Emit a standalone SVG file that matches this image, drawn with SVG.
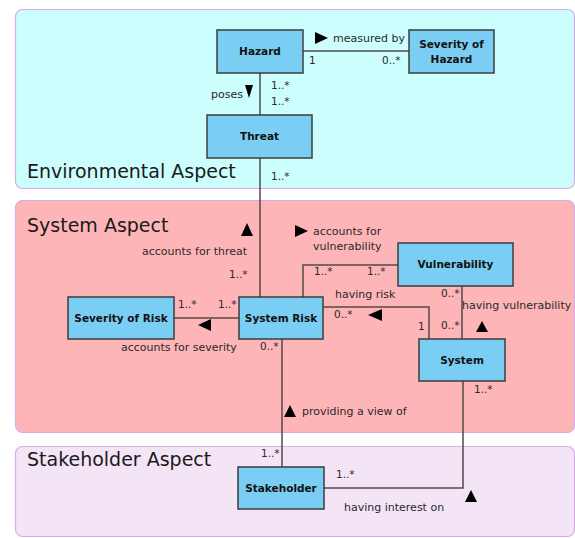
<svg xmlns="http://www.w3.org/2000/svg" width="575" height="538" viewBox="0 0 575 538">
  <style>
    .panel { stroke: #d6ace6; stroke-width: 1.2; }
    .title { font-family: "DejaVu Sans", sans-serif; font-size: 19px; fill: #1a1a1a; }
    .node rect { fill: #7bcef3; stroke: #3c3c3c; stroke-width: 1.5; }
    .node text { font-family: "DejaVu Sans", sans-serif; font-size: 10.5px; font-weight: bold; fill: #111; text-anchor: middle; }
    .conn { fill: none; stroke: #544848; stroke-width: 1.5; }
    .lbl { font-family: "DejaVu Sans", sans-serif; font-size: 11px; fill: #2a2a2a; }
    .mul { font-family: "DejaVu Sans", sans-serif; font-size: 10.5px; fill: #2a2a2a; }
    .tri { fill: #000; }
  </style>

  <rect width="575" height="538" fill="#ffffff"/>

  <!-- aspect panels -->
  <g id="environmental-aspect">
    <rect class="panel" x="15.5" y="9.5" width="559" height="179" rx="7" fill="#ccfefe"/>
    <text class="title" x="27" y="178">Environmental Aspect</text>
  </g>
  <g id="system-aspect">
    <rect class="panel" x="15.5" y="200.5" width="559" height="232" rx="7" fill="#feb5b7"/>
    <text class="title" x="27" y="232">System Aspect</text>
  </g>
  <g id="stakeholder-aspect">
    <rect class="panel" x="15.5" y="446.5" width="559" height="90" rx="7" fill="#f3e5f6"/>
    <text class="title" x="27" y="466">Stakeholder Aspect</text>
  </g>

  <!-- connectors -->
  <g id="connectors">
    <line class="conn" x1="303" y1="51" x2="409" y2="51"/>
    <line class="conn" x1="260" y1="73" x2="260" y2="115"/>
    <line class="conn" x1="260" y1="158" x2="260" y2="297"/>
    <line class="conn" x1="174" y1="318" x2="239" y2="318"/>
    <polyline class="conn" points="303,297 303,265 398,265"/>
    <polyline class="conn" points="323,307 429,307 429,339"/>
    <line class="conn" x1="462" y1="286" x2="462" y2="339"/>
    <line class="conn" x1="282" y1="339" x2="282" y2="467"/>
    <polyline class="conn" points="324,488 463,488 463,381"/>
  </g>

  <!-- association labels, direction triangles, multiplicities -->
  <g id="labels">
    <polygon class="tri" points="315,32 328,38 315,44"/>
    <text class="lbl" x="333" y="42">measured by</text>
    <text class="mul" x="309" y="64">1</text>
    <text class="mul" x="382" y="64">0..*</text>

    <text class="lbl" x="211" y="98">poses</text>
    <polygon class="tri" points="245,85 253,85 249,98"/>
    <text class="mul" x="271" y="89">1..*</text>
    <text class="mul" x="271" y="105">1..*</text>
    <text class="mul" x="271" y="180">1..*</text>

    <polygon class="tri" points="247,223 253,236 241,236"/>
    <text class="lbl" x="142" y="255">accounts for threat</text>
    <text class="mul" x="229" y="278">1..*</text>

    <text class="mul" x="178" y="308">1..*</text>
    <text class="mul" x="218" y="308">1..*</text>
    <polygon class="tri" points="198,325 211,319 211,331"/>
    <text class="lbl" x="121" y="351">accounts for severity</text>
    <text class="mul" x="260" y="350">0..*</text>

    <polygon class="tri" points="295,225 308,231 295,237"/>
    <text class="lbl" x="313" y="235">accounts for</text>
    <text class="lbl" x="313" y="250">vulnerability</text>
    <text class="mul" x="314" y="275">1..*</text>
    <text class="mul" x="367" y="275">1..*</text>

    <text class="lbl" x="335" y="298">having risk</text>
    <text class="mul" x="334" y="318">0..*</text>
    <polygon class="tri" points="368,315 382,309 382,321"/>
    <text class="mul" x="418" y="330">1</text>

    <text class="mul" x="441" y="297">0..*</text>
    <text class="lbl" x="462" y="309">having vulnerability</text>
    <text class="mul" x="441" y="329">0..*</text>
    <polygon class="tri" points="482,321 488,332 476,332"/>

    <text class="mul" x="474" y="393">1..*</text>
    <polygon class="tri" points="290,405 296,417 284,417"/>
    <text class="lbl" x="302" y="415">providing a view of</text>
    <text class="mul" x="261" y="457">1..*</text>

    <text class="mul" x="336" y="478">1..*</text>
    <text class="lbl" x="344" y="511">having interest on</text>
    <polygon class="tri" points="471,490 477,502 465,502"/>
  </g>

  <!-- class nodes -->
  <g id="hazard" class="node">
    <rect x="217" y="30" width="86" height="43"/>
    <text x="260" y="55">Hazard</text>
  </g>
  <g id="severity-of-hazard" class="node">
    <rect x="409" y="30" width="85" height="43"/>
    <text x="451.5" y="48">Severity of</text>
    <text x="451.5" y="63">Hazard</text>
  </g>
  <g id="threat" class="node">
    <rect x="207" y="115" width="105" height="43"/>
    <text x="259.5" y="140">Threat</text>
  </g>
  <g id="severity-of-risk" class="node">
    <rect x="68" y="297" width="106" height="42"/>
    <text x="121" y="322">Severity of Risk</text>
  </g>
  <g id="system-risk" class="node">
    <rect x="239" y="297" width="84" height="42"/>
    <text x="281" y="322">System Risk</text>
  </g>
  <g id="vulnerability" class="node">
    <rect x="398" y="243" width="115" height="43"/>
    <text x="455.5" y="268">Vulnerability</text>
  </g>
  <g id="system" class="node">
    <rect x="419" y="339" width="86" height="42"/>
    <text x="462" y="364">System</text>
  </g>
  <g id="stakeholder" class="node">
    <rect x="238" y="467" width="86" height="42"/>
    <text x="281" y="492">Stakeholder</text>
  </g>
</svg>
